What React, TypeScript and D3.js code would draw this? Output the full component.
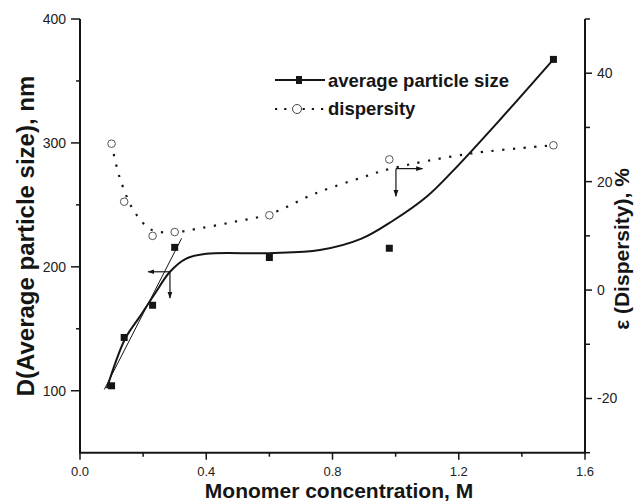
import React from "react";
import * as d3 from "d3";

// Measured data (squares: average particle size, nm; circles: dispersity, %)
const concentration = [0.1, 0.14, 0.23, 0.3, 0.6, 0.98, 1.5];
const particleSize = [104, 143, 169, 215.7, 207.5, 215, 367.4];
const dispersity = [27.0, 16.3, 10.0, 10.7, 13.8, 24.1, 26.7];

// Fitted solid curve (left axis)
const sizeFitX = [0.085, 0.143, 0.19, 0.235, 0.285, 0.335, 0.4, 0.6, 0.76, 0.89, 0.99, 1.1, 1.18, 1.33, 1.5];
const sizeFitY = [102, 142, 160, 177.5, 196, 206.5, 210.5, 211, 213.5, 222.5, 237, 257, 277, 318.5, 367.4];

// Thin linear fit at low concentration (left axis)
const linFitX = [0.077, 0.322];
const linFitY = [101, 223];

// Dotted dispersity curve (right axis)
const dispFitX = [0.1, 0.125, 0.17, 0.227, 0.3, 0.38, 0.49, 0.6, 0.745, 0.9, 0.985, 1.24, 1.5];
const dispFitY = [27, 20.9, 14.7, 11.1, 10.7, 11.4, 12.6, 14.0, 17.8, 20.9, 22.4, 25.2, 26.7];

// Ticks
const xMajor = [0, 0.4, 0.8, 1.2, 1.6];
const xMinor = [0.2, 0.6, 1.0, 1.4];
const yLeftMajor = [100, 200, 300, 400];
const yLeftMinor = [150, 250, 350];
const yRightMajor = [-20, 0, 20, 40];
const yRightMinor = [-30, -10, 10, 30, 50];

// Arrow annotations: [x0, y0, xEnd, yEnd]; size arrow on left axis, dispersity arrow on right axis
const sizeArrow = [0.285, 196, 0.216, 174.8];
const dispArrow = [1.001, 22.4, 1.085, 17.3];

const legendLabels = ["average particle size", "dispersity"];
const xTitle = "Monomer concentration, M";
const yLeftTitle = "D(Average particle size), nm";
const yRightTitle = "ε (Dispersity), %";

const W = 635;
const H = 502;
const left = 80, right = 585, top = 19, bottom = 452.7;
const FONT = "'Liberation Sans', Arial, Helvetica, sans-serif";
const INK = "#151515";

export default function App() {
  const x = d3.scaleLinear().domain([0, 1.6]).range([left, right]);
  const yL = d3.scaleLinear().domain([50, 400]).range([bottom, top]);
  const yR = d3.scaleLinear().domain([-30, 50]).range([bottom, top]);

  const smooth = d3.curveCatmullRom.alpha(0.5);
  const sizeLine = d3.line<number>().x((_, i) => x(sizeFitX[i])).y((d) => yL(d)).curve(smooth);
  const dispLine = d3.line<number>().x((_, i) => x(dispFitX[i])).y((d) => yR(d)).curve(smooth);
  const linLine = d3.line<number>().x((_, i) => x(linFitX[i])).y((d) => yL(d));

  const fmtX = (v: number) => v.toFixed(1);

  const [ax0, ay0, axE, ayE] = sizeArrow;
  const [bx0, by0, bxE, byE] = dispArrow;

  const sq = 7;

  return (
    <div style={{ position: "absolute", left: 0, top: 0, width: W, height: H, background: "#fff" }}>
      <svg width={W} height={H} viewBox={`0 0 ${W} ${H}`} style={{ display: "block" }}>
        <defs>
          <marker id="ah" viewBox="0 0 10 10" refX="9" refY="5" markerWidth="7" markerHeight="7" orient="auto-start-reverse" markerUnits="userSpaceOnUse">
            <path d="M0,1.5 L10,5 L0,8.5 z" fill={INK} />
          </marker>
        </defs>
        <rect x={0} y={0} width={W} height={H} fill="#fff" />

        {/* Axes lines */}
        <line x1={left} x2={left} y1={top} y2={bottom} stroke={INK} strokeWidth={2} />
        <line x1={right} x2={right} y1={top} y2={bottom} stroke={INK} strokeWidth={2} />
        <line x1={left - 1} x2={right + 1} y1={bottom} y2={bottom} stroke={INK} strokeWidth={2} />

        {/* X ticks */}
        {xMajor.map((t) => (
          <g key={"xm" + t}>
            <line x1={x(t)} x2={x(t)} y1={bottom} y2={bottom + 7} stroke={INK} strokeWidth={1.5} />
            <text x={x(t)} y={475.5} textAnchor="middle" fontFamily={FONT} fontSize={13} fill="#222">{fmtX(t)}</text>
          </g>
        ))}
        {xMinor.map((t) => (
          <line key={"xn" + t} x1={x(t)} x2={x(t)} y1={bottom} y2={bottom + 4} stroke={INK} strokeWidth={1.5} />
        ))}

        {/* Left ticks */}
        {yLeftMajor.map((t) => (
          <g key={"yl" + t}>
            <line x1={left - 9} x2={left} y1={yL(t)} y2={yL(t)} stroke={INK} strokeWidth={1.5} />
            <text x={66} y={yL(t) + 5} textAnchor="end" fontFamily={FONT} fontSize={14} fill="#222">{t}</text>
          </g>
        ))}
        {yLeftMinor.map((t) => (
          <line key={"yln" + t} x1={left - 4} x2={left} y1={yL(t)} y2={yL(t)} stroke={INK} strokeWidth={1.5} />
        ))}

        {/* Right ticks */}
        {yRightMajor.map((t) => (
          <g key={"yr" + t}>
            <line x1={right} x2={right + 7} y1={yR(t)} y2={yR(t)} stroke={INK} strokeWidth={1.5} />
            <text x={597} y={yR(t) + 5} textAnchor="start" fontFamily={FONT} fontSize={14} fill="#222">{t}</text>
          </g>
        ))}
        {yRightMinor.map((t) => (
          <line key={"yrn" + t} x1={right} x2={right + 5} y1={yR(t)} y2={yR(t)} stroke={INK} strokeWidth={1.5} />
        ))}

        {/* Fitted curves */}
        <path d={linLine(linFitY) || ""} fill="none" stroke={INK} strokeWidth={1} />
        <path d={sizeLine(sizeFitY) || ""} fill="none" stroke={INK} strokeWidth={2} />
        <path d={dispLine(dispFitY) || ""} fill="none" stroke={INK} strokeWidth={2.2} strokeDasharray="2.2 8.5" strokeLinecap="butt" />

        {/* Data markers */}
        {concentration.map((c, i) => (
          <rect key={"s" + i} x={x(c) - sq / 2} y={yL(particleSize[i]) - sq / 2} width={sq} height={sq} fill={INK} />
        ))}
        {concentration.map((c, i) => (
          <circle key={"c" + i} cx={x(c)} cy={yR(dispersity[i])} r={3.8} fill="#fff" stroke="#555" strokeWidth={1} />
        ))}

        {/* Arrows */}
        <line x1={x(ax0)} y1={yL(ay0)} x2={x(axE)} y2={yL(ay0)} stroke={INK} strokeWidth={1.2} markerEnd="url(#ah)" />
        <line x1={x(ax0)} y1={yL(ay0)} x2={x(ax0)} y2={yL(ayE)} stroke={INK} strokeWidth={1.2} markerEnd="url(#ah)" />
        <line x1={x(bx0)} y1={yR(by0)} x2={x(bxE)} y2={yR(by0)} stroke={INK} strokeWidth={1.2} markerEnd="url(#ah)" />
        <line x1={x(bx0)} y1={yR(by0)} x2={x(bx0)} y2={yR(byE)} stroke={INK} strokeWidth={1.2} markerEnd="url(#ah)" />

        {/* Legend */}
        <line x1={275} x2={325} y1={80} y2={80} stroke={INK} strokeWidth={2} />
        <rect x={299 - 3} y={80 - 4} width={6} height={8} fill={INK} />
        <text x={328} y={86.5} fontFamily={FONT} fontWeight={700} fontSize={18.5} fill={INK}>{legendLabels[0]}</text>
        <line x1={275} x2={325} y1={109} y2={109} stroke={INK} strokeWidth={2.2} strokeDasharray="2.2 7" />
        <circle cx={297} cy={109} r={4.5} fill="#fff" stroke="#444" strokeWidth={1} />
        <text x={328} y={115} fontFamily={FONT} fontWeight={700} fontSize={18.5} fill={INK}>{legendLabels[1]}</text>

        {/* Axis titles */}
        <text x={339} y={498} textAnchor="middle" fontFamily={FONT} fontWeight={700} fontSize={21} fill={INK}>{xTitle}</text>
        <text transform="translate(34,236) rotate(-90)" textAnchor="middle" fontFamily={FONT} fontWeight={700} fontSize={24} fill={INK}>{yLeftTitle}</text>
        <text transform="translate(629,249) rotate(-90)" textAnchor="middle" fontFamily={FONT} fontWeight={700} fontSize={21} fill={INK}>{yRightTitle}</text>
      </svg>
    </div>
  );
}
